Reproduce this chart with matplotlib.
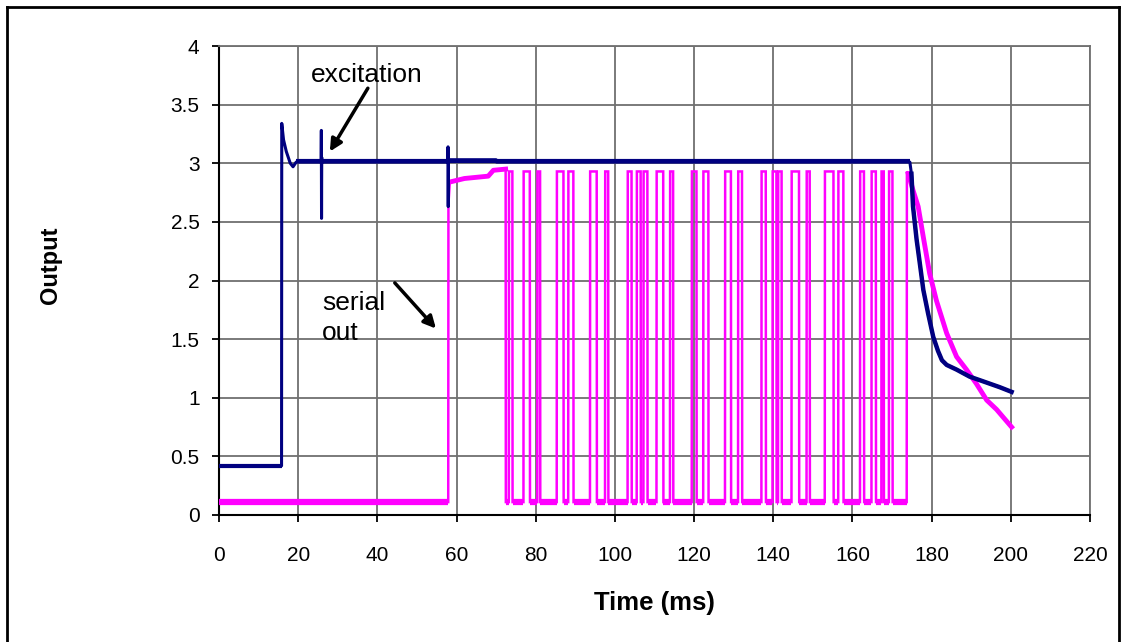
import matplotlib
matplotlib.use("Agg")
import matplotlib.pyplot as plt
from matplotlib.lines import Line2D
import numpy as np

plt.rcParams['font.family'] = ['Liberation Sans', 'DejaVu Sans']

# ---------------- data ----------------
x_ticks = [0, 20, 40, 60, 80, 100, 120, 140, 160, 180, 200, 220]
y_ticks = [0, 0.5, 1, 1.5, 2, 2.5, 3, 3.5, 4]
y_tick_labels = ["0", "0.5", "1", "1.5", "2", "2.5", "3", "3.5", "4"]

# excitation (ms, V)
exc_t = [0, 15.8, 15.85, 16.3, 17.0, 18.0, 18.7, 19.5, 25.8, 25.85, 25.9, 25.95, 26.0,
         57.8, 57.85, 57.9, 57.95, 58.0, 70.0, 70.1, 174.5,
         174.9, 175.3, 176.2, 177.0, 177.9, 179.1, 180.4, 181.6, 182.6, 183.8, 186.3,
         189.6, 193.0, 197.2, 200.2]
exc_v = [0.42, 0.42, 3.34, 3.2, 3.1, 3.0, 2.97, 3.01, 3.01, 3.28, 2.53, 3.05, 3.01,
         3.01, 3.14, 2.63, 3.05, 3.03, 3.03, 3.01, 3.01,
         2.91, 2.63, 2.35, 2.15, 1.92, 1.72, 1.52, 1.40, 1.32, 1.28, 1.24,
         1.18, 1.14, 1.09, 1.05]

# serial out
serial_low = 0.11
serial_high = 2.93
serial_first_rise = 57.9
lead_t = [57.95, 58.3, 62.0, 68.0, 69.3, 72.4]
lead_v = [2.65, 2.84, 2.87, 2.89, 2.94, 2.95]
first_fall = 72.45
pulse_rise = [73.2, 76.9, 80.4, 85.3, 88.2, 93.7, 97.5, 103.2, 105.5, 107.2, 110.5,
              113.9, 119.4, 122.3, 127.8, 131.1, 137.0, 139.8, 141.2, 144.6, 148.4,
              153.0, 156.4, 161.9, 164.8, 167.3, 169.2]
pulse_fall = [74.1, 78.5, 81.1, 87.0, 89.5, 95.4, 98.3, 104.2, 106.5, 108.2, 112.2,
              114.7, 120.6, 123.6, 129.3, 132.1, 138.1, 140.8, 142.1, 146.5, 149.2,
              155.2, 157.7, 162.9, 165.9, 167.9, 170.1]
last_rise = 173.7
decay_t = [174.1, 175.3, 176.6, 177.9, 179.5, 181.2, 183.8, 186.3, 188.8, 191.3,
           193.9, 196.4, 200.2]
decay_v = [2.91, 2.77, 2.63, 2.37, 2.06, 1.83, 1.55, 1.35, 1.24, 1.12, 0.98, 0.90, 0.75]

# ---------------- build serial waveform ----------------
st = [0, serial_first_rise] + lead_t + [first_fall]
sv = [serial_low, serial_low] + lead_v + [serial_low]
low_starts = [0, first_fall]
low_ends = [serial_first_rise]
for r, f in zip(pulse_rise, pulse_fall):
    st += [r, r + 0.05, f, f + 0.05]
    sv += [serial_low, serial_high, serial_high, serial_low]
    low_ends.append(r)
    low_starts.append(f + 0.05)
st += [last_rise, last_rise + 0.05] + decay_t
sv += [serial_low, serial_high] + decay_v
low_ends.append(last_rise)

# ---------------- figure ----------------
W, H = 1125, 642
fig = plt.figure(figsize=(W / 100, H / 100), dpi=100)
ax = fig.add_axes([219 / W, (H - 515) / H, 871 / W, 469 / H])

pink = '#FF00FF'
navy = '#000080'

ax.plot(st, sv, color=pink, lw=1.8, zorder=3, solid_joinstyle='miter')
ax.hlines([serial_low] * len(low_starts), low_starts, low_ends, color=pink, lw=4.5, zorder=3)
ax.plot(lead_t[1:], lead_v[1:], color=pink, lw=3.5, zorder=3)
ax.plot(decay_t, decay_v, color=pink, lw=3.5, zorder=3)
ax.plot(exc_t, exc_v, color=navy, lw=2.2, zorder=4)
# thicker flat bands / tail of excitation
ax.hlines([0.42, 3.02], [0, 19.5], [15.8, 174.5], color=navy, lw=3.0, zorder=4)
ax.plot(exc_t[21:], exc_v[21:], color=navy, lw=3.2, zorder=4)

ax.set_xlim(0, 220)
ax.set_ylim(0, 4)
ax.set_xticks(x_ticks)
ax.set_yticks(y_ticks)
ax.set_yticklabels(y_tick_labels)
ax.grid(True, color='#707070', lw=1.3)
ax.set_axisbelow(True)
for s in ['top', 'right']:
    ax.spines[s].set_color('#707070')
    ax.spines[s].set_linewidth(1.3)
for s in ['left', 'bottom']:
    ax.spines[s].set_color('black')
    ax.spines[s].set_linewidth(1.5)
ax.tick_params(axis='x', direction='out', length=5, width=1.3, pad=17, labelsize=15)
ax.tick_params(axis='y', direction='out', length=5, width=1.3, pad=9, labelsize=15)

ax.set_xlabel('Time (ms)', fontsize=18.5, fontweight='bold')
ax.xaxis.set_label_coords(0.5, -0.163)
ax.set_ylabel('Output', fontsize=17, fontweight='bold', va='center')
ax.yaxis.set_label_coords(-0.193, 0.533)

ax.text(37.3, 3.75, 'excitation', fontsize=19, ha='center', va='center')
ax.annotate('', xy=(28.0, 3.10), xytext=(37.6, 3.64),
            arrowprops=dict(arrowstyle='-|>', color='black', lw=2.5,
                            mutation_scale=18, shrinkA=0, shrinkB=0))
ax.annotate('', xy=(54.8, 1.59), xytext=(44.4, 1.98),
            arrowprops=dict(arrowstyle='-|>', color='black', lw=2.5,
                            mutation_scale=18, shrinkA=0, shrinkB=0))
ax.text(26.0, 1.68, 'serial\nout', fontsize=19, ha='left', va='center', linespacing=1.35)

# outer frame
fx0, fy0, fx1 = 7 / W, 1 - 7 / H, 1119 / W
fig.add_artist(Line2D([fx0, fx0], [0, fy0], color='black', lw=2, transform=fig.transFigure))
fig.add_artist(Line2D([fx0, fx1], [fy0, fy0], color='black', lw=2, transform=fig.transFigure))
fig.add_artist(Line2D([fx1, fx1], [0, fy0], color='black', lw=2, transform=fig.transFigure))

fig.savefig('out.png', dpi=100)
